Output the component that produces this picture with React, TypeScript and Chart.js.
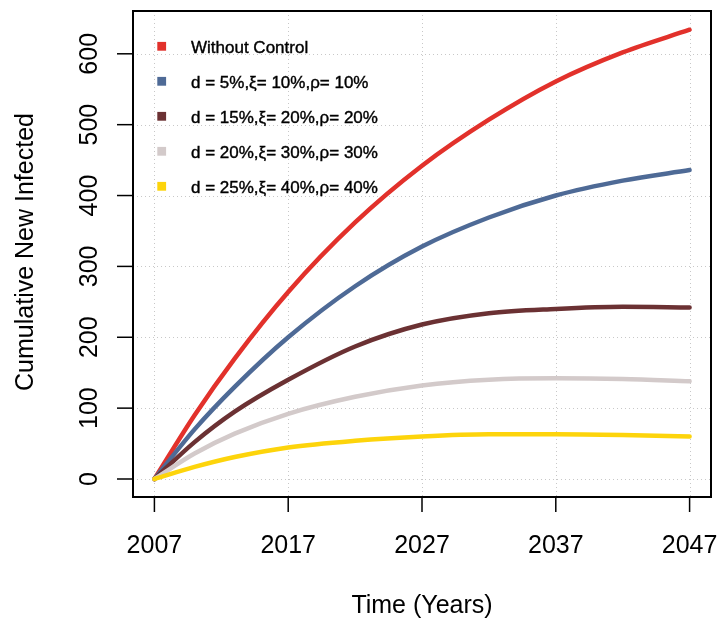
import React, { useEffect, useRef } from "react";
import { Chart, registerables } from "chart.js";

Chart.register(...registerables);

const years = [2007, 2010, 2013, 2017, 2022, 2027, 2032, 2037, 2042, 2047];
const withoutControl = [0, 90, 170, 264, 362, 442, 507, 561, 602, 634];
const control1 = [0, 70, 130, 200, 272, 328, 369, 400, 421, 436];
const control2 = [0, 52, 95, 140, 187, 218, 234, 240, 243, 242];
const control3 = [0, 36, 64, 92, 116, 132, 140, 142, 141, 138];
const control4 = [0, 17, 31, 44.5, 54, 60, 63, 63, 62, 60];

const seriesLabels = [
  "Without Control",
  "d = 5%,ξ= 10%,ρ= 10%",
  "d = 15%,ξ= 20%,ρ= 20%",
  "d = 20%,ξ= 30%,ρ= 30%",
  "d = 25%,ξ= 40%,ρ= 40%",
];
const seriesColors = ["#E2312B", "#4E6A96", "#6B3133", "#D3CACA", "#FDD40B"];
const seriesValues = [withoutControl, control1, control2, control3, control4];

const xTicks = [2007, 2017, 2027, 2037, 2047];
const yTicks = [0, 100, 200, 300, 400, 500, 600];
const xTitle = "Time (Years)";
const yTitle = "Cumulative New Infected";

const FONT = '"Liberation Sans", Arial, Helvetica, sans-serif';

const decorPlugin = {
  id: "decor",
  beforeDatasetsDraw(chart: any) {
    const { ctx, chartArea } = chart;
    const xs = chart.scales.x;
    const ys = chart.scales.y;
    ctx.save();
    ctx.strokeStyle = "#C8C8C8";
    ctx.lineWidth = 1;
    ctx.setLineDash([1, 3]);
    for (const t of xTicks) {
      const px = Math.round(xs.getPixelForValue(t)) + 0.5;
      ctx.beginPath();
      ctx.moveTo(px, chartArea.top);
      ctx.lineTo(px, chartArea.bottom);
      ctx.stroke();
    }
    for (const t of yTicks) {
      const py = Math.round(ys.getPixelForValue(t)) + 0.5;
      ctx.beginPath();
      ctx.moveTo(chartArea.left, py);
      ctx.lineTo(chartArea.right, py);
      ctx.stroke();
    }
    ctx.restore();
  },
  afterDraw(chart: any) {
    const { ctx, chartArea } = chart;
    const xs = chart.scales.x;
    const ys = chart.scales.y;
    ctx.save();
    ctx.setLineDash([]);
    ctx.strokeStyle = "#000";
    ctx.lineWidth = 2;
    ctx.strokeRect(chartArea.left, chartArea.top, chartArea.right - chartArea.left, chartArea.bottom - chartArea.top);

    ctx.lineWidth = 1.5;
    ctx.fillStyle = "#000";
    ctx.font = `25px ${FONT}`;
    // x ticks
    ctx.textAlign = "center";
    ctx.textBaseline = "alphabetic";
    for (const t of xTicks) {
      const px = xs.getPixelForValue(t);
      ctx.beginPath();
      ctx.moveTo(px, chartArea.bottom);
      ctx.lineTo(px, chartArea.bottom + 15);
      ctx.stroke();
      ctx.fillText(String(t), px, chartArea.bottom + 56);
    }
    // y ticks
    for (const t of yTicks) {
      const py = ys.getPixelForValue(t);
      ctx.beginPath();
      ctx.moveTo(chartArea.left, py);
      ctx.lineTo(chartArea.left - 16, py);
      ctx.stroke();
      ctx.save();
      ctx.translate(97, py);
      ctx.rotate(-Math.PI / 2);
      ctx.textAlign = "center";
      ctx.fillText(String(t), 0, 0);
      ctx.restore();
    }
    // titles
    ctx.textAlign = "center";
    ctx.fillText(xTitle, (chartArea.left + chartArea.right) / 2, 613);
    ctx.save();
    ctx.translate(33, (chartArea.top + chartArea.bottom) / 2 - 2);
    ctx.rotate(-Math.PI / 2);
    ctx.fillText(yTitle, 0, 0);
    ctx.restore();

    // legend
    ctx.font = `17px ${FONT}`;
    ctx.textAlign = "left";
    ctx.textBaseline = "alphabetic";
    ctx.lineWidth = 0.4;
    ctx.strokeStyle = "#000";
    seriesLabels.forEach((lab, i) => {
      const cy = 46.3 + i * 35;
      ctx.fillStyle = seriesColors[i];
      ctx.fillRect(157.3, cy - 4.4, 8.8, 8.8);
      ctx.fillStyle = "#000";
      ctx.fillText(lab, 191, cy + 7);
      ctx.strokeText(lab, 191, cy + 7);
    });
    ctx.restore();
  },
};

export default function App() {
  const ref = useRef<HTMLCanvasElement | null>(null);
  useEffect(() => {
    if (!ref.current) return;
    const datasets = seriesValues.map((vals, i) => ({
      label: seriesLabels[i],
      data: years.map((yr, j) => ({ x: yr, y: vals[j] })),
      borderColor: seriesColors[i],
      backgroundColor: seriesColors[i],
      borderWidth: 4.5,
      pointRadius: 0,
      fill: false,
      cubicInterpolationMode: "monotone" as const,
      borderCapStyle: "round" as const,
      borderJoinStyle: "round" as const,
      order: 5 - i,
    }));
    const chart = new Chart(ref.current, {
      type: "line",
      data: { datasets },
      options: {
        animation: false,
        responsive: false,
        devicePixelRatio: 1,
        layout: { padding: { left: 133, right: 7, top: 11, bottom: 122 } },
        plugins: { legend: { display: false }, tooltip: { enabled: false } },
        scales: {
          x: { type: "linear", min: 2005.4, max: 2048.6, display: false },
          y: { type: "linear", min: -25.4, max: 660.4, display: false },
        },
      },
      plugins: [decorPlugin],
    });
    return () => chart.destroy();
  }, []);
  return (
    <div style={{ position: "fixed", left: 0, top: 0, width: 718, height: 619, background: "#fff" }}>
      <canvas ref={ref} width={718} height={619} style={{ width: 718, height: 619 }} />
    </div>
  );
}
